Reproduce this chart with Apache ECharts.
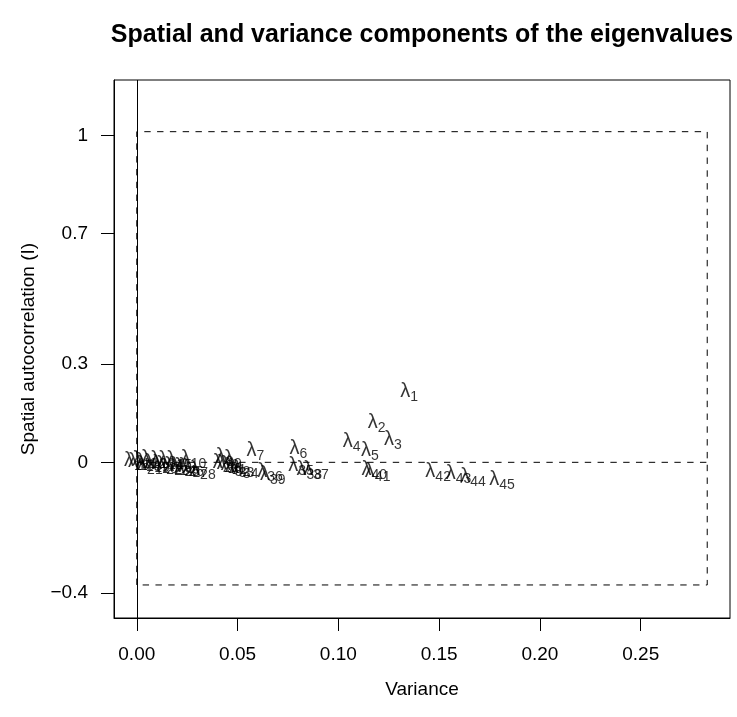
<!DOCTYPE html>
<html><head><meta charset="utf-8">
<script src="https://cdn.jsdelivr.net/npm/echarts@6/dist/echarts.min.js"></script>
<style>html,body{margin:0;padding:0;background:#fff}#c{width:737px;height:717px}</style>
</head><body><div id="c"></div>
<script>
// eigenvalue index (label subscript), variance component, spatial autocorrelation (Moran's I)
const eigIndex = [1,2,3,4,5,6,7,8,9,10,11,12,13,14,15,16,17,18,19,20,21,22,23,24,25,26,27,28,29,30,31,32,33,34,35,36,37,38,39,40,41,42,43,44,45];
const variance = [0.1351,0.1190,0.1270,0.1066,0.1157,0.0802,0.0588,0.0436,0.0477,0.0282,
                  0.0040,0.0085,0.0130,0.0170,0.0210,0.0000,0.0020,0.0060,0.0100,0.0140,
                  0.0065,0.0160,0.0200,0.0230,0.0250,0.0270,0.0290,0.0328,0.0440,0.0460,
                  0.0480,0.0500,0.0520,0.0540,0.0815,0.0661,0.0889,0.0856,0.0675,0.1178,
                  0.1195,0.1495,0.1596,0.1668,0.1812];
const moranI   = [0.216,0.122,0.069,0.063,0.036,0.043,0.036,0.017,0.012,0.012,
                  0.010,0.011,0.010,0.009,0.008,0.006,0.004,0.002,0.000,-0.004,
                  -0.008,-0.008,-0.009,-0.010,-0.012,-0.014,-0.016,-0.022,0.000,-0.004,
                  -0.008,-0.012,-0.016,-0.018,-0.011,-0.027,-0.021,-0.021,-0.037,-0.022,
                  -0.028,-0.029,-0.035,-0.044,-0.052];
const xTicks = [0, 0.05, 0.10, 0.15, 0.20, 0.25];
const yTicks = [-0.4, 0, 0.3, 0.7, 1];
const boxVar = [0, 0.283];
const boxI = [-0.375, 1.011];
const xRange = [-0.0113, 0.2943];
const yRange = [-0.476, 1.169];

const FONT = '"Liberation Sans", Arial, Helvetica, sans-serif';
const chart = echarts.init(document.getElementById('c'), null, {renderer: 'canvas'});
const pts = eigIndex.map((n, i) => ({value: [variance[i], moranI[i]], idx: n}));
const dash = [6.4, 6.4];
const boxData = [[boxVar[0], boxI[0]], [boxVar[0], boxI[1]], [boxVar[1], boxI[1]], [boxVar[1], boxI[0]], [boxVar[0], boxI[0]]];
const zeroData = [[boxVar[0], 0], [boxVar[1], 0]];
const axisText = {fontFamily: FONT, fontSize: 19, color: '#000'};

chart.setOption({
  animation: false,
  backgroundColor: '#fff',
  title: {
    text: 'Spatial and variance components of the eigenvalues',
    left: 422, top: 23, textAlign: 'center', padding: 0,
    textStyle: {fontFamily: FONT, fontWeight: 'bold', fontSize: 25, color: '#000'}
  },
  grid: {left: 114, top: 80, width: 616, height: 538, show: true, borderColor: '#000', borderWidth: 1, backgroundColor: 'transparent'},
  xAxis: {
    type: 'value', min: xRange[0], max: xRange[1],
    splitLine: {show: false},
    axisLine: {show: true, onZero: false, lineStyle: {color: '#000', width: 1}},
    axisTick: {show: true, length: 13, customValues: xTicks, lineStyle: {color: '#000', width: 1}},
    axisLabel: Object.assign({customValues: xTicks, margin: 27, formatter: v => v.toFixed(2)}, axisText),
    name: 'Variance', nameLocation: 'middle', nameGap: 62, nameTextStyle: axisText
  },
  yAxis: {
    type: 'value', min: yRange[0], max: yRange[1],
    splitLine: {show: false},
    axisLine: {show: true, onZero: false, lineStyle: {color: '#000', width: 1}},
    axisTick: {show: true, length: 13, customValues: yTicks, lineStyle: {color: '#000', width: 1}},
    axisLabel: Object.assign({customValues: yTicks, margin: 26, formatter: v => (v < 0 ? '\u2212' + Math.abs(v) : String(v))}, axisText),
    name: 'Spatial autocorrelation (I)', nameLocation: 'middle', nameRotate: 90, nameGap: 76, nameTextStyle: axisText
  },
  series: [
    {
      type: 'line', data: boxData, symbol: 'none', silent: true,
      lineStyle: {color: '#000', width: 1, type: dash}, z: 1
    },
    {
      type: 'line', data: zeroData, symbol: 'none', silent: true,
      lineStyle: {color: '#000', width: 1, type: dash}, z: 1,
      markLine: {
        silent: true, symbol: ['none', 'none'], animation: false,
        label: {show: false},
        lineStyle: {color: '#000', width: 1, type: 'solid'},
        data: [{xAxis: 0}]
      }
    },
    {
      type: 'scatter', data: pts, symbolSize: 0.1, silent: true, z: 3,
      itemStyle: {color: 'rgba(0,0,0,0)'},
      label: {
        show: true, position: 'inside',
        formatter: p => '{l|\u03bb}{s|' + p.data.idx + '}',
        rich: {
          l: {fontFamily: FONT, fontSize: 20, color: '#000'},
          s: {fontFamily: FONT, fontSize: 14, color: '#000', padding: [11, 0, 0, 0]}
        }
      },
      labelLayout: {hideOverlap: false}
    }
  ]
});
</script></body></html>
